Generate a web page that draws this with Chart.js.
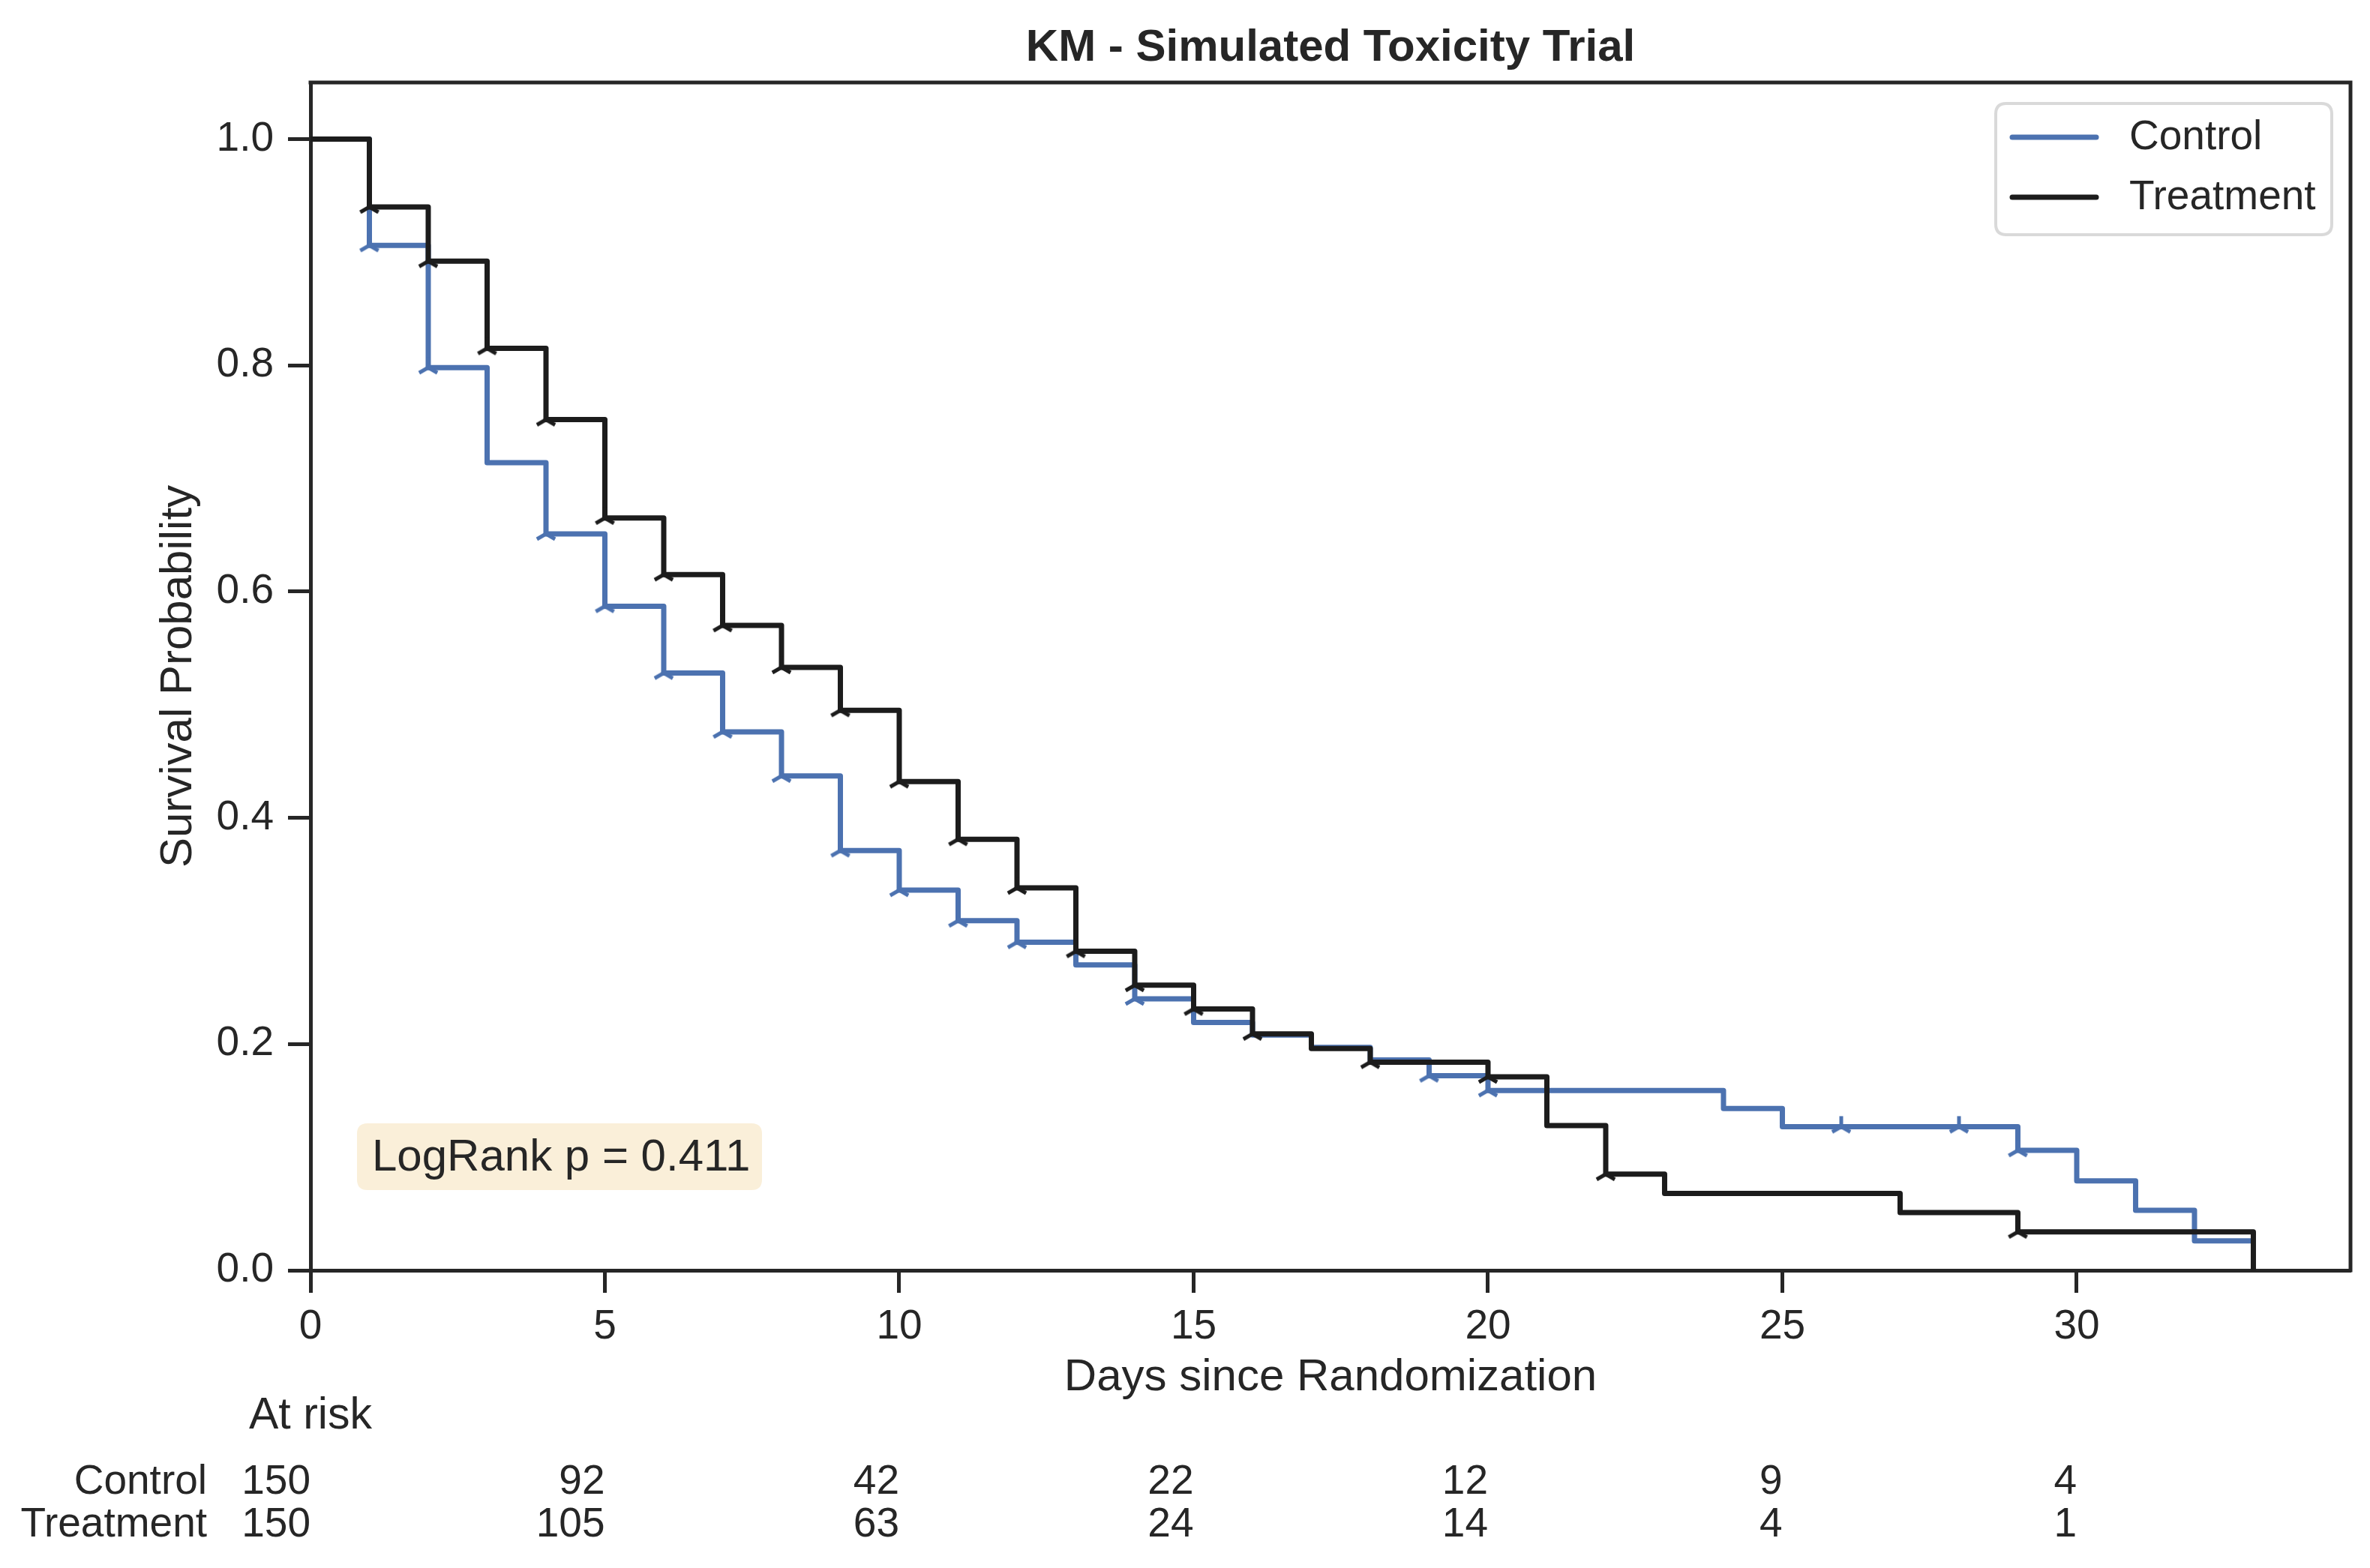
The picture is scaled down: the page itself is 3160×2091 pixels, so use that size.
<!DOCTYPE html>
<html><head><meta charset="utf-8">
<script src="https://cdn.jsdelivr.net/npm/chart.js@4.4.1/dist/chart.umd.min.js"></script>
<style>html,body{margin:0;padding:0;background:#fff;}canvas{display:block;}</style>
</head><body>
<canvas id="c" width="3160" height="2091" style="width:3160px;height:2091px"></canvas>
<script>
// ---- data ----
const seriesNames = ['Control', 'Treatment'];
const controlDays = [0,1,2,3,4,5,6,7,8,9,10,11,12,13,14,15,16,17,18,19,20,24,25,29,30,31,32,33];
const controlSurv = [1.0,0.906,0.798,0.714,0.651,0.587,0.528,0.476,0.437,0.371,0.336,0.309,0.290,0.270,0.240,0.219,0.208,0.197,0.186,0.172,0.159,0.143,0.127,0.106,0.079,0.053,0.026,0.026];
const treatmentDays = [0,1,2,3,4,5,6,7,8,9,10,11,12,13,14,15,16,17,18,20,21,22,23,27,29,33];
const treatmentSurv = [1.0,0.940,0.892,0.815,0.752,0.665,0.615,0.570,0.533,0.495,0.432,0.381,0.338,0.282,0.252,0.231,0.209,0.196,0.184,0.171,0.128,0.085,0.068,0.051,0.034,0.0];
const controlCensorDays = [1,2,4,5,6,7,8,9,10,11,12,14,19,20,26,28,29];
const treatmentCensorDays = [1,2,3,4,5,6,7,8,9,10,11,12,13,14,15,16,18,20,22,29];
const atRiskDays = [0,5,10,15,20,25,30];
const controlAtRisk = [150,92,42,22,12,9,4];
const treatmentAtRisk = [150,105,63,24,14,4,1];
const xTickStep = 5;
const yTickStep = 0.2;
const pValueText = 'LogRank p = 0.411';
const titleText = 'KM - Simulated Toxicity Trial';
const xLabel = 'Days since Randomization';
const yLabel = 'Survival Probability';

// ---- styles ----
const FONT = "'Liberation Sans', Arial, sans-serif";
const TEXT = '#262626';
const BLUE = '#4C72B0';
const BLACK = '#1c1c1c';
Chart.defaults.font.family = FONT;
Chart.defaults.color = TEXT;

function stepValue(days, surv, t) {
  let v = surv[0];
  for (let i = 0; i < days.length; i++) if (days[i] <= t) v = surv[i];
  return v;
}
function triUp(color) {
  const c = document.createElement('canvas');
  c.width = 40; c.height = 40;
  const g = c.getContext('2d');
  const r = 14, cx = 20, cy = 20;
  g.strokeStyle = color; g.lineWidth = 5; g.lineCap = 'butt';
  g.beginPath();
  g.moveTo(cx, cy); g.lineTo(cx, cy - r);
  g.moveTo(cx, cy); g.lineTo(cx - r * 0.866, cy + r * 0.5);
  g.moveTo(cx, cy); g.lineTo(cx + r * 0.866, cy + r * 0.5);
  g.stroke();
  return c;
}
const toPts = (d, s) => d.map((x, i) => ({x, y: s[i]}));
const censorPts = (cd, d, s) => cd.map(t => ({x: t, y: stepValue(d, s, t)}));

function roundRect(ctx, x, y, w, h, r) {
  ctx.beginPath();
  ctx.moveTo(x + r, y);
  ctx.lineTo(x + w - r, y); ctx.quadraticCurveTo(x + w, y, x + w, y + r);
  ctx.lineTo(x + w, y + h - r); ctx.quadraticCurveTo(x + w, y + h, x + w - r, y + h);
  ctx.lineTo(x + r, y + h); ctx.quadraticCurveTo(x, y + h, x, y + h - r);
  ctx.lineTo(x, y + r); ctx.quadraticCurveTo(x, y, x + r, y);
  ctx.closePath();
}

const extras = {
  id: 'kmExtras',
  afterDraw(chart) {
    const {ctx, chartArea: a} = chart;
    const xs = chart.scales.x;
    ctx.save();
    // top & right spines
    ctx.strokeStyle = TEXT; ctx.lineWidth = 5; ctx.lineCap = 'square';
    ctx.beginPath();
    ctx.moveTo(a.left, a.top); ctx.lineTo(a.right, a.top); ctx.lineTo(a.right, a.bottom);
    ctx.stroke();
    // legend
    const lx = a.right - 473, ly = a.top + 28, lw = 448, lh = 175;
    roundRect(ctx, lx, ly, lw, lh, 14);
    ctx.fillStyle = 'rgba(255,255,255,0.8)'; ctx.fill();
    ctx.lineWidth = 4; ctx.strokeStyle = '#d9d9d9'; ctx.stroke();
    const cols = [BLUE, BLACK];
    ctx.font = '55px ' + FONT; ctx.textBaseline = 'middle'; ctx.textAlign = 'left';
    seriesNames.forEach((n, i) => {
      const yy = ly + 45 + i * 80;
      ctx.strokeStyle = cols[i]; ctx.lineWidth = 7; ctx.lineCap = 'round';
      ctx.beginPath(); ctx.moveTo(lx + 22, yy); ctx.lineTo(lx + 134, yy); ctx.stroke();
      ctx.fillStyle = TEXT; ctx.fillText(n, lx + 178, yy + 1);
    });
    // p-value box
    const bx = a.left + 62, by = a.bottom - 196, bw = 540, bh = 89;
    roundRect(ctx, bx, by, bw, bh, 14);
    ctx.fillStyle = '#FAEFD9'; ctx.fill();
    ctx.fillStyle = TEXT; ctx.font = '60px ' + FONT; ctx.textAlign = 'left'; ctx.textBaseline = 'middle';
    ctx.fillText(pValueText, bx + 20, by + bh / 2 + 2);
    // at-risk table
    ctx.font = '59px ' + FONT;
    ctx.textAlign = 'left';
    ctx.fillText('At risk', 332, 1889);
    ctx.font = '55px ' + FONT;
    ctx.textAlign = 'right';
    ctx.fillText(seriesNames[0], 276, 1977);
    ctx.fillText(seriesNames[1], 276, 2034);
    atRiskDays.forEach((d, i) => {
      const px = xs.getPixelForValue(d);
      ctx.fillText(String(controlAtRisk[i]), px, 1977);
      ctx.fillText(String(treatmentAtRisk[i]), px, 2034);
    });
    ctx.restore();
  }
};

new Chart(document.getElementById('c'), {
  type: 'line',
  data: {
    datasets: [
      {label: seriesNames[0], data: toPts(controlDays, controlSurv), borderColor: BLUE, borderWidth: 7, stepped: true, pointRadius: 0, fill: false, borderJoinStyle: 'round', order: 4},
      {label: seriesNames[0] + ' censored', data: censorPts(controlCensorDays, controlDays, controlSurv), showLine: false, pointStyle: triUp(BLUE), pointRadius: 10, order: 3},
      {label: seriesNames[1], data: toPts(treatmentDays, treatmentSurv), borderColor: BLACK, borderWidth: 7, stepped: true, pointRadius: 0, fill: false, borderJoinStyle: 'round', order: 2},
      {label: seriesNames[1] + ' censored', data: censorPts(treatmentCensorDays, treatmentDays, treatmentSurv), showLine: false, pointStyle: triUp(BLACK), pointRadius: 10, order: 1}
    ]
  },
  options: {
    responsive: false, animation: false, devicePixelRatio: 1,
    layout: {padding: {left: 0, right: 26, top: 0, bottom: 218}},
    plugins: {
      legend: {display: false}, tooltip: {enabled: false},
      title: {display: true, text: titleText, color: TEXT, fullSize: false,
        font: {family: FONT, size: 60, weight: 'bold', lineHeight: 1.2}, padding: {top: 28, bottom: 10}}
    },
    scales: {
      x: {
        type: 'linear', min: 0, max: 34.65,
        afterFit: s => { s.height = 179; },
        ticks: {stepSize: xTickStep, includeBounds: false, padding: 13, maxRotation: 0, color: TEXT, font: {size: 55}},
        grid: {display: true, drawOnChartArea: false, drawTicks: true, tickLength: 30, tickWidth: 5, tickColor: TEXT, color: TEXT},
        border: {display: true, width: 5, color: TEXT},
        title: {display: true, text: xLabel, color: TEXT, font: {size: 60, lineHeight: 1.2}, padding: {top: 0, bottom: 0}}
      },
      y: {
        type: 'linear', min: 0, max: 1.05,
        afterFit: s => { s.width = 414; },
        ticks: {stepSize: yTickStep, includeBounds: false, padding: 19, color: TEXT, font: {size: 55}, callback: v => v.toFixed(1)},
        grid: {display: true, drawOnChartArea: false, drawTicks: true, tickLength: 30, tickWidth: 5, tickColor: TEXT, color: TEXT},
        border: {display: true, width: 5, color: TEXT},
        title: {display: true, text: yLabel, color: TEXT, font: {size: 60, lineHeight: 1.2}, padding: {top: 202, bottom: 0}}
      }
    }
  },
  plugins: [extras]
});
</script></body></html>
